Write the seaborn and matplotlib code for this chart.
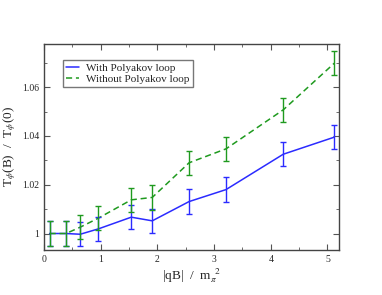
import matplotlib
matplotlib.use("Agg")
import matplotlib.pyplot as plt
import pandas as pd
import seaborn as sns
from matplotlib.ticker import MultipleLocator

# data
qB = [0.1, 0.39, 0.64, 0.96, 1.54, 1.91, 2.56, 3.21, 4.22, 5.12]
with_pl = [1.000, 1.000, 0.9997, 1.0019, 1.0067, 1.0052, 1.0131, 1.018, 1.0325, 1.0395]
without_pl = [1.000, 1.000, 1.0026, 1.0063, 1.0138, 1.0148, 1.029, 1.0347, 1.0507, 1.0698]
err = [0.005] * len(qB)

df = pd.DataFrame({'qB': qB, 'with': with_pl, 'without': without_pl, 'err': err})

sns.set_style("ticks")
plt.rcParams['font.family'] = ['Liberation Serif', 'DejaVu Serif']
plt.rcParams['mathtext.fontset'] = 'stix'

blue = '#2b2bff'
green = '#1f9a1f'

fig, ax = plt.subplots(figsize=(3.82, 2.95), dpi=100)
fig.subplots_adjust(left=0.115, right=0.887, bottom=0.153, top=0.851)

sns.lineplot(data=df, x='qB', y='with', ax=ax, color=blue, lw=1.1,
             label='With Polyakov loop')
sns.lineplot(data=df, x='qB', y='without', ax=ax, color=green, lw=1.1,
             ls=(0, (4, 2.5)), label='Without Polyakov loop')
ax.errorbar(df['qB'], df['with'], yerr=df['err'], fmt='none',
            ecolor=blue, elinewidth=1.0, capsize=2.5, capthick=1.0)
ax.errorbar(df['qB'], df['without'], yerr=df['err'], fmt='none',
            ecolor=green, elinewidth=1.0, capsize=2.5, capthick=1.0)

ax.set_xlim(0, 5.2)
ax.set_ylim(0.9933, 1.0777)
ax.xaxis.set_major_locator(MultipleLocator(1))
ax.xaxis.set_minor_locator(MultipleLocator(0.5))
ax.yaxis.set_major_locator(MultipleLocator(0.02))
ax.yaxis.set_minor_locator(MultipleLocator(0.01))
ax.set_yticks([1.0, 1.02, 1.04, 1.06])
ax.set_yticklabels(['1', '1.02', '1.04', '1.06'])
ax.tick_params(which='both', direction='in', top=True, right=True,
               labelsize=7, color='#555555')
ax.tick_params(which='major', length=4)
ax.tick_params(which='minor', length=2)
for s in ax.spines.values():
    s.set_color('#444444')
    s.set_linewidth(1.0)

ax.set_xlabel(r'|qB|  /  m$_{\pi}^{\ \ 2}$', fontsize=9.5, labelpad=2)
ax.set_ylabel(r'T$_{\phi}$(B)  /  T$_{\phi}$(0)', fontsize=9.5, labelpad=3)

leg = ax.legend(loc='upper left', bbox_to_anchor=(0.045, 0.95), fontsize=8,
                frameon=True, fancybox=False, handlelength=1.2,
                borderpad=0.3, labelspacing=0.1, handletextpad=0.6)
leg.get_frame().set_edgecolor('#555555')
leg.get_frame().set_linewidth(1.0)

fig.savefig('out.png', dpi=100)
